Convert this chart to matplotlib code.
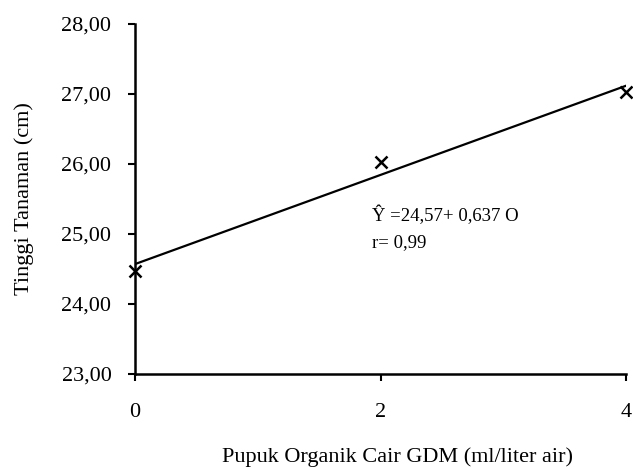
import numpy as np
import matplotlib
matplotlib.use("Agg")
import matplotlib.pyplot as plt

plt.rcParams["font.family"] = ["Liberation Serif", "DejaVu Serif"]

# data
dosis = [0, 2, 4]
tinggi = [24.47, 26.03, 27.03]
intercept = 24.57
slope = 0.637
y_ticks = [23, 24, 25, 26, 27, 28]
x_ticks = [0, 2, 4]

fig = plt.figure(figsize=(6.33, 4.68), dpi=100)
ax = fig.add_axes([0.2133, 0.2009, 0.7757, 0.7478])

x_line = np.array([dosis[0], dosis[-1]])
ax.plot(x_line, intercept + slope * x_line, color="black", lw=1.6)
ax.plot(dosis, tinggi, linestyle="none", marker="x", color="black",
        markersize=9, markeredgewidth=1.8, clip_on=False)

ax.set_xlim(0, 4)
ax.set_ylim(23, 28)
ax.set_xticks(x_ticks)
ax.set_yticks(y_ticks)
ax.set_yticklabels([f"{v:.2f}".replace(".", ",") for v in y_ticks])
ax.tick_params(axis="both", direction="out", length=5, width=1.5,
               labelsize=16)
ax.tick_params(axis="y", pad=12)
ax.tick_params(axis="x", pad=16)

for s in ["top", "right"]:
    ax.spines[s].set_visible(False)
for s in ["left", "bottom"]:
    ax.spines[s].set_linewidth(1.8)

ax.set_xlabel("Pupuk Organik Cair GDM (ml/liter air)", fontsize=16)
ax.xaxis.set_label_coords(0.535, -0.21)
ax.set_ylabel("Tinggi Tanaman (cm)", fontsize=16, labelpad=20)

# regression equation
ax.text(1.93, 25.27, "Ŷ =24,57+ 0,637 O", fontsize=13.5, va="center")
ax.text(1.93, 24.87, "r= 0,99", fontsize=13.5, va="center")

fig.savefig("out.png", dpi=100)
